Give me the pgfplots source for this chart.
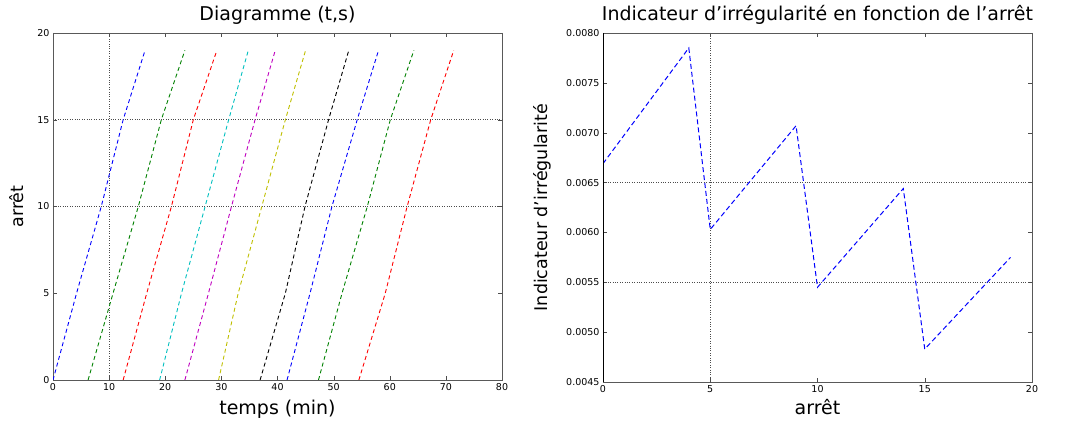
\documentclass[border=0pt]{standalone}
\usepackage{fontspec}
\setmainfont{DejaVu Sans}
\usepackage{pgfplots}
\pgfplotsset{compat=1.18}
\definecolor{mb}{rgb}{0,0,1}
\definecolor{mg}{rgb}{0,0.5,0}
\definecolor{mr}{rgb}{1,0,0}
\definecolor{mc}{rgb}{0,0.75,0.75}
\definecolor{mm}{rgb}{0.75,0,0.75}
\definecolor{my}{rgb}{0.75,0.75,0}

\pgfplotsset{
  mpl/.style={
    scale only axis,
    axis line style={black!65},
    tick style={black!70},
    major tick length=4pt,
    minor tick length=0pt,
    tick label style={font=\fontsize{9.5}{10}\selectfont},
    title style={font=\fontsize{19}{20}\selectfont, at={(axis description cs:0.5,1)}, anchor=base, yshift=6pt},
    xlabel style={font=\fontsize{19}{20}\selectfont, at={(axis description cs:0.5,0)}, anchor=base, yshift=-35pt},
    ylabel style={font=\fontsize{17.5}{19}\selectfont, at={(axis description cs:0,0.5)}, anchor=center},
    /pgf/number format/assume math mode=true,
    extra tick style={grid=major, major tick length=0pt},
    major grid style={black!70, dotted, line width=0.8pt},
  },
}

\begin{document}
\begin{tikzpicture}
\useasboundingbox (0pt,0pt) rectangle (1068pt,425pt);

% ---- time-space diagram
\begin{axis}[
  mpl,
  at={(53pt,45pt)}, anchor=south west,
  width=449pt, height=347pt,
  xmin=0, xmax=80, ymin=0, ymax=20,
  xtick={0,10,...,80},
  ytick={0,5,10,15,20},
  extra x ticks={10}, extra x tick labels={},
  extra y ticks={10,15}, extra y tick labels={},
  title={Diagramme (t,s)},
  xlabel={temps (min)},
  ylabel={arrêt},
  ylabel style={yshift=36pt},
  every axis plot/.append style={line width=0.9pt, dash pattern=on 4pt off 3pt},
]
\addplot[mb] coordinates {(0,0) (4.2,5) (8.6,10) (12.5,15) (16.4,19)};
\addplot[mg] coordinates {(6.25,0) (10.7,5) (15.2,10) (19.3,15) (23.5,19)};
\addplot[mr] coordinates {(12.5,0) (16.7,5) (21.1,10) (25.0,15) (29.2,19)};
\addplot[mc] coordinates {(19.0,0) (22.9,5) (27.1,10) (31.3,15) (34.8,19)};
\addplot[mm] coordinates {(23.5,0) (27.7,5) (31.8,10) (36.0,15) (39.6,19)};
\addplot[my] coordinates {(29.5,0) (33.0,5) (37.2,10) (41.4,15) (45.0,19)};
\addplot[black] coordinates {(36.9,0) (41.4,5) (44.9,10) (49.1,15) (52.7,19)};
\addplot[mb] coordinates {(41.7,0) (45.8,5) (49.7,10) (54.2,15) (58.0,19)};
\addplot[mg] coordinates {(47.3,0) (51.5,5) (56.0,10) (60.1,15) (64.3,19)};
\addplot[mr] coordinates {(54.5,0) (59.2,5) (63.1,10) (67.3,15) (71.4,19)};
\end{axis}

% ---- irregularity indicator
\begin{axis}[
  mpl,
  at={(603pt,43pt)}, anchor=south west,
  width=429pt, height=349pt,
  xmin=0, xmax=20, ymin=0.0045, ymax=0.0080,
  xtick={0,5,...,20},
  ytick={0.0045,0.0050,...,0.0080},
  extra x ticks={5}, extra x tick labels={},
  extra y ticks={0.0055,0.0065}, extra y tick labels={},
  scaled y ticks=false,
  yticklabel style={/pgf/number format/.cd, fixed, fixed zerofill, precision=4},
  title={Indicateur d'irrégularité en fonction de l'arrêt},
  xlabel={arrêt},
  xlabel style={yshift=2pt},
  ylabel={Indicateur d'irrégularité},
  ylabel style={yshift=61pt},
]
\addplot[mb, line width=1pt, dash pattern=on 5pt off 3pt] coordinates {
  (0,0.00669) (4,0.00785) (5,0.00603) (9,0.00707)
  (10,0.00545) (14,0.00644) (15,0.00483) (19,0.00575)
};
\draw[black, line width=2pt] (rel axis cs:0,0) -- (rel axis cs:0,1);
\end{axis}
\end{tikzpicture}
\end{document}
